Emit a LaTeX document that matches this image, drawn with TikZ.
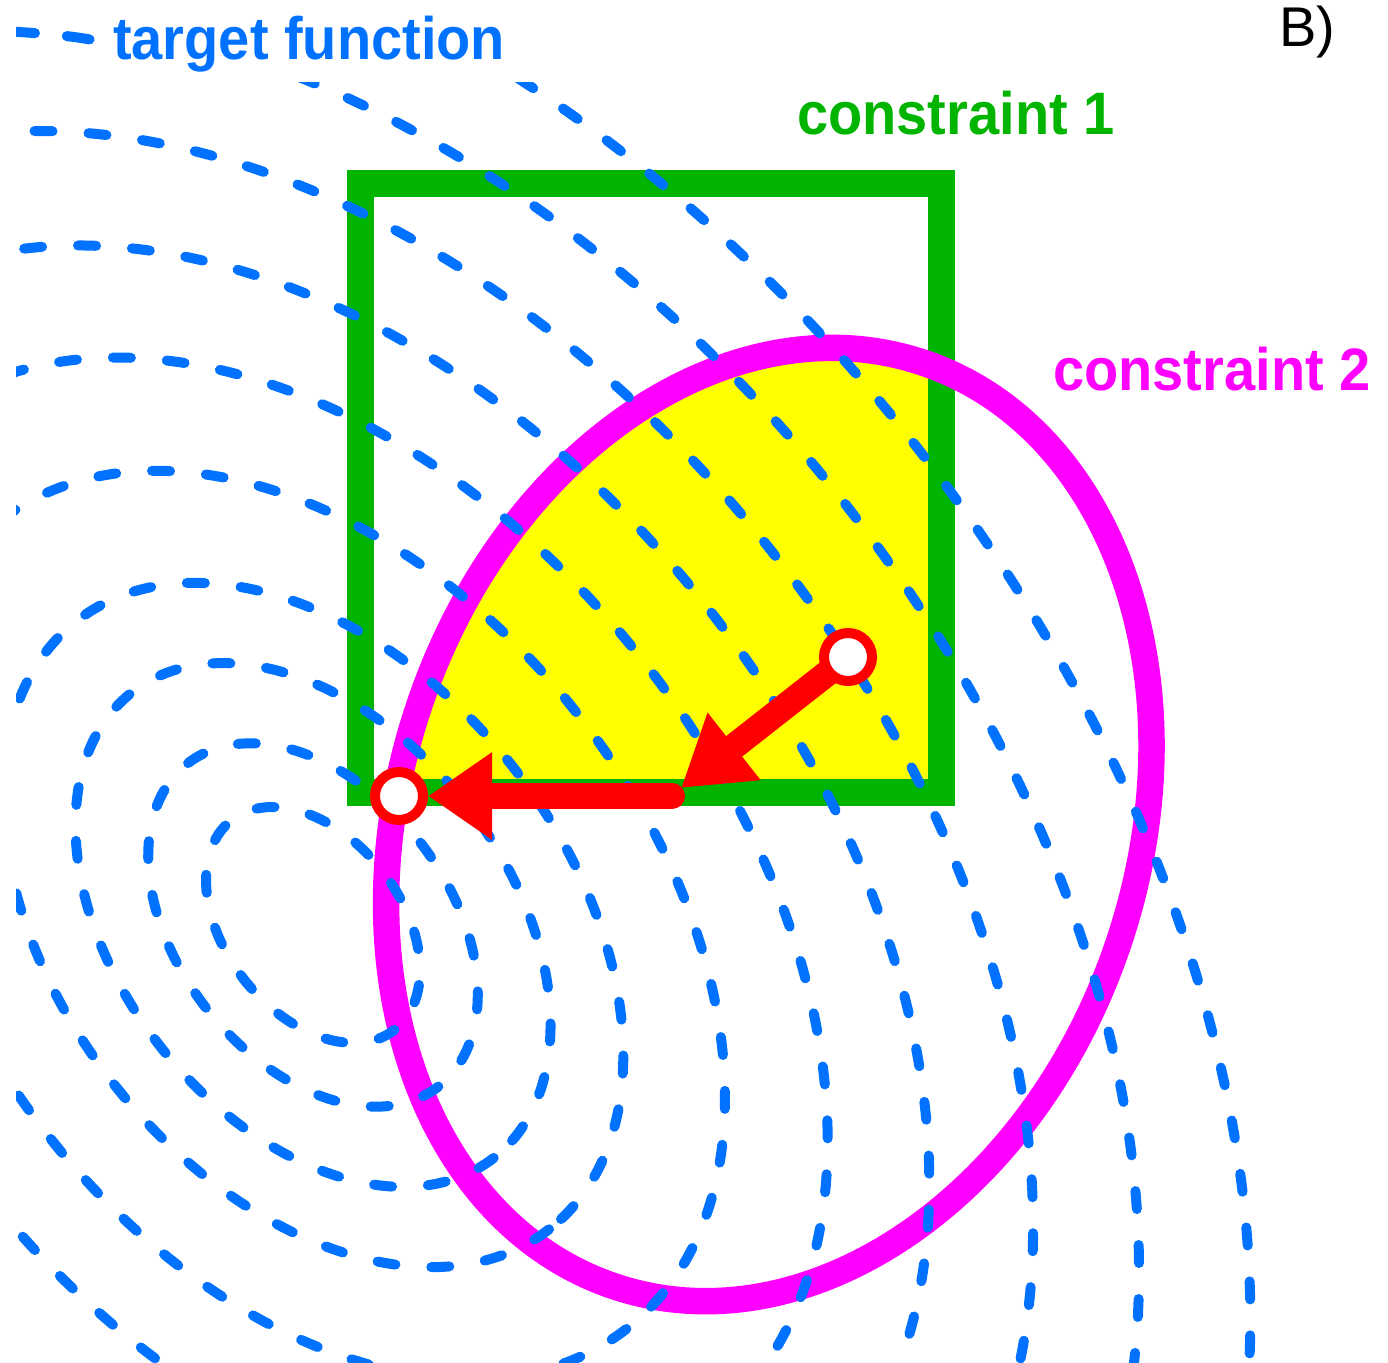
\documentclass[tikz,border=0pt]{standalone}
\usepackage{fontspec}
\setmainfont{Liberation Sans}
\usetikzlibrary{arrows.meta}
\definecolor{tblue}{RGB}{0,114,255}
\definecolor{cgreen}{RGB}{0,180,0}
\definecolor{cmag}{RGB}{255,0,255}
\definecolor{cyel}{RGB}{255,255,0}
\definecolor{cred}{RGB}{255,0,0}
\newcommand{\tallbold}[1]{\scalebox{1}[1.07]{\bfseries #1}}
\begin{document}
\begin{tikzpicture}[x=1pt,y=-1pt,
  contour/.style={draw=tblue, line width=10pt, line cap=round, dash pattern=on 18pt off 36pt},
  lbl/.style={font=\fontsize{56}{62}\selectfont, inner sep=0pt, anchor=base west},
  redarrow/.style={draw=cred, line width=26pt, line cap=round},
  ptnode/.style={circle, draw=cred, line width=10pt, fill=white, minimum size=48pt, inner sep=0pt}]
\useasboundingbox (0,0) rectangle (1388,1362);
\coordinate (C) at (313,925);
\coordinate (M) at (768.8,824.5);
\coordinate (P1c) at (848,657);
\coordinate (P2c) at (399,796);
\coordinate (T1) at (681,788);
\coordinate (Q) at (672,796);
% feasible region
\begin{scope}
  \clip (360,183) rectangle (941.5,792.5);
  \fill[cyel, rotate around={71.6:(M)}] (M) ellipse [x radius=487, y radius=369.3];
\end{scope}
% constraint 1
\draw[cgreen, line width=27pt] (360,183) rectangle (941.5,792.5);
% constraint 2
\draw[cmag, line width=26.5pt, rotate around={71.6:(M)}] (M) ellipse [x radius=487, y radius=369.3];
% target function contours
\begin{scope}
  \clip (16,83) rectangle (1388,1362);
  \foreach \k in {1,1.54,2.22,2.9,3.85,4.81,5.76,6.73,7.72,8.76}{
    \pgfmathsetmacro{\rx}{132.8*\k}
    \pgfmathsetmacro{\ry}{87.9*\k}
    \draw[contour, rotate around={-52.2:(C)}] (C) ellipse [x radius=\rx, y radius=\ry];
  }
\end{scope}
% legend line
\begin{scope}
  \clip (16,0) rectangle (200,80);
  \draw[tblue, line width=10pt, line cap=round, dash pattern=on 24pt off 32pt on 23pt off 60pt]
    (11,31.5) .. controls (35,33) and (65,35) .. (90,39.5);
\end{scope}
% arrows
\draw[redarrow, -{Triangle[length=67.5pt, width=81pt]}] (P1c) -- (T1);
\draw[redarrow, shorten >=29pt, -{Triangle[length=64pt, width=83pt]}] (Q) -- (P2c);
% points
\node[ptnode] (P1) at (P1c) {};
\node[ptnode] (P2) at (P2c) {};
% labels
\node[lbl, text=tblue] (tf) at (113,60) {\tallbold{target function}};
\node[lbl, text=cgreen] (c1) at (797,135) {\tallbold{constraint 1}};
\node[lbl, text=cmag] (c2) at (1053,390) {\tallbold{constraint 2}};
\node[lbl] (B) at (1279,47) {B)};
\end{tikzpicture}
\end{document}
